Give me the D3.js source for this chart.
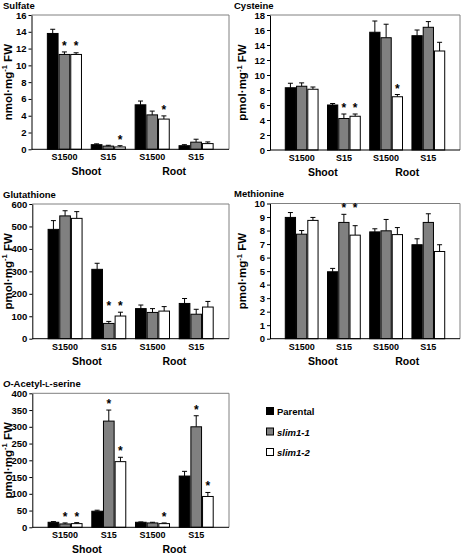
<!DOCTYPE html>
<html><head><meta charset="utf-8">
<script src="https://cdn.jsdelivr.net/npm/d3@7"></script>
<style>
html,body{margin:0;padding:0;background:#fff;}
text{font-family:"Liberation Sans",Arial,sans-serif;font-weight:bold;fill:#000;}
</style></head>
<body><svg id="c" width="462" height="554"></svg>
<script>
const categories = ["S1500","S15","S1500","S15"];
const tissues = ["Shoot","Root"];
const genotypes = ["Parental","slim1-1","slim1-2"];
const colors = ["#000000","#808080","#ffffff"];

const sulfateMean = [[13.8,11.3,11.3],[0.55,0.38,0.28],[5.3,4.1,3.6],[0.43,0.85,0.68]];
const sulfateErr  = [[0.5,0.3,0.2],[0.1,0.1,0.15],[0.45,0.45,0.38],[0.12,0.35,0.2]];
const sulfateSig  = [[0,1,1],[0,0,1],[0,0,1],[0,0,0]];

const cysteineMean = [[8.3,8.5,8.1],[6.0,4.2,4.5],[15.7,14.97,7.1],[15.24,16.36,13.2]];
const cysteineErr  = [[0.6,0.45,0.3],[0.2,0.6,0.3],[1.5,1.8,0.3],[0.76,0.76,1.16]];
const cysteineSig  = [[0,0,0],[0,1,1],[0,0,1],[0,0,0]];

const glutathioneMean = [[487,547,536],[309,68,101],[134,117,123],[157,109,141]];
const glutathioneErr  = [[39,23,30],[27,9,17],[16,17,20],[22,22,25]];
const glutathioneSig  = [[0,0,0],[0,1,1],[0,0,0],[0,0,0]];

const methionineMean = [[8.97,7.73,8.75],[4.95,8.6,7.66],[7.9,7.98,7.7],[6.95,8.6,6.45]];
const methionineErr  = [[0.36,0.27,0.22],[0.25,0.6,0.7],[0.23,0.84,0.52],[0.44,0.64,0.5]];
const methionineSig  = [[0,0,0],[0,1,1],[0,0,0],[0,0,0]];

const oasMean = [[15,10,11],[48,317,196],[15,13,11],[153,300,92]];
const oasErr  = [[2,3,3],[3,33,13],[1,2,2],[14,33,12]];
const oasSig  = [[0,1,1],[0,1,1],[0,0,1],[0,1,1]];

const yTicksSulfate = d3.range(0,17,2);
const yTicksCysteine = d3.range(0,19,2);
const yTicksGlutathione = d3.range(0,601,100);
const yTicksMethionine = d3.range(0,11,1);
const yTicksOas = d3.range(0,401,50);

const svg = d3.select("#c");

const panels = [
  {title:"Sulfate", unit:"nmol", mean:sulfateMean, err:sulfateErr, sig:sulfateSig, ticks:yTicksSulfate,
   box:{l:31.5,r:229,t:15,b:149.3}, tx:3, ty:8.5, lx:11.5},
  {title:"Cysteine", unit:"pmol", mean:cysteineMean, err:cysteineErr, sig:cysteineSig, ticks:yTicksCysteine,
   box:{l:270,r:460,t:15,b:150}, tx:234, ty:8.5, lx:246},
  {title:"Glutathione", unit:"pmol", mean:glutathioneMean, err:glutathioneErr, sig:glutathioneSig, ticks:yTicksGlutathione,
   box:{l:32.3,r:229,t:204,b:338.7}, tx:3, ty:197.5, lx:11.5},
  {title:"Methionine", unit:"pmol", mean:methionineMean, err:methionineErr, sig:methionineSig, ticks:yTicksMethionine,
   box:{l:270,r:460,t:203.5,b:338.7}, tx:234, ty:197, lx:246},
  {title:"OAS", unit:"pmol", mean:oasMean, err:oasErr, sig:oasSig, ticks:yTicksOas,
   box:{l:32.3,r:229,t:393.3,b:527.3}, tx:3, ty:386.5, lx:11.5}
];

panels.forEach(p => {
  const g = svg.append("g");
  const B = p.box;
  const x = d3.scaleBand().domain(d3.range(categories.length)).range([B.l,B.r]).paddingInner(0.2).paddingOuter(0.35);
  const xs = d3.scaleBand().domain(d3.range(genotypes.length)).range([0,x.bandwidth()]);
  const y = d3.scaleLinear().domain([0,d3.max(p.ticks)]).range([B.b,B.t]);

  g.append("path").attr("d",`M${B.l},${B.t}H${B.r}V${B.b}`).attr("fill","none").attr("stroke","#808080").attr("stroke-width",1);

  categories.forEach((c,i) => {
    // star level: align stars within a group when their error tops are close
    const tops = genotypes.map((gn,j) => y(p.mean[i][j]+p.err[i][j]));
    const sigTops = tops.filter((t,j) => p.sig[i][j]);
    const minTop = sigTops.length ? d3.min(sigTops) : 0;
    genotypes.forEach((gn,j) => {
      const v = p.mean[i][j], e = p.err[i][j];
      const bx = x(i)+xs(j), bw = xs.bandwidth();
      const cx = bx + bw/2;
      g.append("line").attr("x1",cx).attr("x2",cx).attr("y1",y(v)).attr("y2",y(v+e)).attr("stroke","#000").attr("stroke-width",1);
      g.append("line").attr("x1",cx-2.5).attr("x2",cx+2.5).attr("y1",y(v+e)).attr("y2",y(v+e)).attr("stroke","#000").attr("stroke-width",1);
      g.append("rect").attr("x",bx+0.5).attr("y",y(v)).attr("width",bw-1).attr("height",y(0)-y(v))
        .attr("fill",colors[j]).attr("stroke","#000").attr("stroke-width",1);
      if (p.sig[i][j]) {
        const top = (tops[j] - minTop < 20) ? minTop : tops[j];
        g.append("text").attr("x",cx).attr("y",top-2).attr("text-anchor","middle").attr("font-size",12).text("*");
      }
    });
    g.append("text").attr("x",x(i)+x.bandwidth()/2).attr("y",B.b+11).attr("text-anchor","middle").attr("font-size",9).text(c);
  });
  tissues.forEach((t,k) => {
    const cx = (x(2*k)+x(2*k+1)+x.bandwidth())/2;
    g.append("text").attr("x",cx).attr("y",B.b+26).attr("text-anchor","middle").attr("font-size",10.5).text(t);
  });

  const ya = g.append("g").attr("transform",`translate(${B.l},0)`)
    .call(d3.axisLeft(y).tickValues(p.ticks).tickSize(3).tickSizeOuter(0).tickPadding(2));
  ya.select(".domain").attr("stroke","#000");
  ya.selectAll(".tick line").attr("stroke","#000");
  ya.selectAll("text").attr("font-size",9.5).attr("font-family",null).attr("fill","#000");
  g.append("line").attr("x1",B.l).attr("x2",B.r).attr("y1",B.b).attr("y2",B.b).attr("stroke","#000").attr("stroke-width",1);

  const tt = g.append("text").attr("x",p.tx).attr("y",p.ty).attr("font-size",9.5);
  if (p.title === "OAS") {
    tt.append("tspan").attr("font-style","italic").text("O");
    tt.append("tspan").text("-Acetyl-");
    tt.append("tspan").attr("font-size",7).text("L");
    tt.append("tspan").text("-serine");
  } else tt.text(p.title);

  const cy = (B.t+B.b)/2;
  const yl = g.append("text").attr("transform",`translate(${p.lx},${cy}) rotate(-90)`).attr("text-anchor","middle").attr("font-size",11.5);
  yl.append("tspan").text(p.unit + "·mg");
  yl.append("tspan").attr("font-size",7.5).attr("dy",-4.5).text("-1");
  yl.append("tspan").attr("dy",4.5).text(" FW");
});

const lg = svg.append("g");
genotypes.forEach((gn,j) => {
  const yy = 407.5 + j*20.5;
  lg.append("rect").attr("x",266.5).attr("y",yy).attr("width",7).attr("height",7)
    .attr("fill",colors[j]).attr("stroke","#000").attr("stroke-width",1);
  lg.append("text").attr("x",277).attr("y",yy+7.5).attr("font-size",9.5)
    .attr("font-style", j===0 ? "normal" : "italic").text(gn);
});
</script></body></html>
